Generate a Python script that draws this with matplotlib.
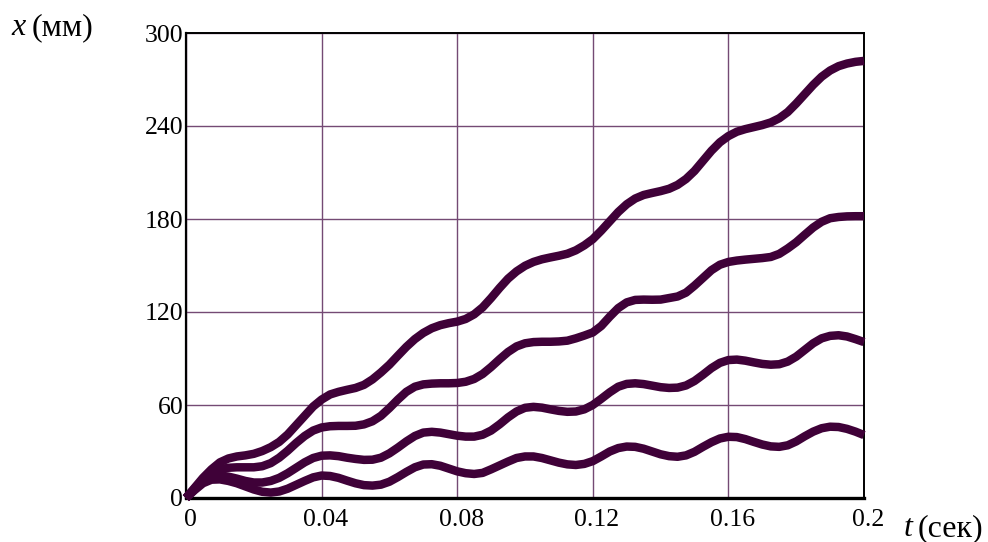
import numpy as np
import matplotlib
matplotlib.use("Agg")
import matplotlib.pyplot as plt
import matplotlib.transforms as mtransforms

# time samples (s)
t = [i * 0.0025 for i in range(81)]

x_top = [0, 6.5, 13, 18.5, 23, 25.5, 26.8, 27.5, 28.5, 30.3,
         32.8, 36.2, 41, 47, 53, 59, 63.5, 66.8, 68.5, 69.8,
         71, 73, 76.5, 81, 86, 91.8, 97.5, 102.5, 106.5, 109.5,
         111.5, 112.8, 113.8, 115.5, 118.5, 123, 129, 135.5, 141.5, 146.2,
         149.8, 152.3, 154, 155.2, 156.3, 157.6, 159.8, 163, 167, 172.5,
         178.5, 184.5, 189.5, 193.2, 195.5, 196.8, 198, 199.5, 202, 205.8,
         211, 217.5, 224, 229.5, 233.5, 236.3, 238, 239.3, 240.6, 242.3,
         245, 249, 254.5, 260.5, 266.5, 271.8, 275.8, 278.6, 280.3, 281.4,
         282]

x_second = [0, 6, 11.5, 16, 18.5, 19.5, 19.8, 19.8, 19.8, 20.5,
            22.5, 26, 30.5, 35.5, 40, 43.5, 45.5, 46.3, 46.5, 46.5,
            46.6, 47.5, 49.5, 53, 58, 63.5, 68.5, 71.8, 73.3, 73.8,
            74, 74, 74.2, 75, 76.8, 80, 84.5, 89.5, 94.2, 97.8,
            99.8, 100.6, 100.8, 100.8, 101, 101.5, 103, 104.8, 106.8, 111,
            117, 122.5, 126.2, 127.8, 128, 127.9, 128, 129, 130, 132.5,
            137, 142, 147, 150.5, 152.3, 153.2, 153.8, 154.3, 154.8, 155.5,
            157.5, 161, 165, 169.8, 174.5, 178.2, 180.5, 181.3, 181.7, 181.8,
            181.8]

x_third = [0, 5.5, 10.5, 13.8, 14.5, 13.8, 12.5, 11, 10, 10,
           11, 13, 16, 19.5, 23, 25.8, 27.3, 27.5, 27, 26,
           25.2, 24.6, 24.7, 26, 28.8, 32.5, 36.5, 40, 42.2, 42.7,
           42.2, 41.2, 40.2, 39.6, 39.6, 40.8, 43.5, 47.5, 52, 55.8,
           58.2, 58.8, 58.3, 57.2, 56.2, 55.6, 55.8, 57.2, 60, 64,
           68.2, 71.8, 73.6, 74, 73.5, 72.5, 71.5, 71, 71.2, 72.6,
           75.5, 79.5, 83.8, 87.2, 89, 89.3, 88.6, 87.5, 86.5, 86,
           86.3, 88, 91.2, 95.5, 99.8, 103, 104.6, 105, 104.2, 102.5,
           100.6]

x_bottom = [0, 5, 9.5, 11.8, 12, 11, 9.5, 7.5, 5.5, 4,
            3.5, 4.2, 6, 8.5, 11, 13.3, 14.5, 14.2, 13, 11.2,
            9.5, 8.3, 8, 8.6, 10.5, 13.5, 16.8, 19.8, 21.6, 21.8,
            20.8, 19, 17.2, 16, 15.5, 16.2, 18.5, 21, 23.5, 25.8,
            26.8, 26.8, 25.8, 24.3, 22.8, 21.7, 21.3, 22, 23.8, 26.8,
            30, 32.2, 33.2, 33, 31.8, 30, 28.2, 27, 26.6, 27.5,
            29.8, 33, 36, 38.4, 39.5, 39.3, 38, 36.2, 34.5, 33.3,
            33, 34, 36.5, 39.8, 42.8, 45, 46, 45.8, 44.6, 42.8,
            40.6]

x_ticks = [0, 0.04, 0.08, 0.12, 0.16, 0.2]
x_ticklabels = ["0", "0.04", "0.08", "0.12", "0.16", "0.2"]
y_ticks = [0, 60, 120, 180, 240, 300]
y_ticklabels = ["0", "60", "120", "180", "240", "300"]

W, H = 988, 542
fig = plt.figure(figsize=(W / 100, H / 100), dpi=100)
ax = fig.add_axes([186 / W, 44 / H, 678 / W, 465 / H])

line_color = "#3f0138"
grid_color = "#744a74"
serif = ["Liberation Serif", "DejaVu Serif"]

for series in (x_top, x_second, x_third, x_bottom):
    ax.plot(t, series, color=line_color, lw=6.1, solid_capstyle="butt",
            solid_joinstyle="round", zorder=3, clip_on=False)

ax.set_xlim(0, 0.2)
ax.set_ylim(0, 300)
ax.set_xticks(x_ticks)
ax.set_xticklabels(x_ticklabels)
ax.set_yticks(y_ticks)
ax.set_yticklabels(y_ticklabels)
ax.tick_params(length=0, labelsize=18.5)
ax.tick_params(axis="y", pad=2)
ax.tick_params(axis="x", pad=8)
shift = mtransforms.ScaledTranslation(4 / 100, 0, fig.dpi_scale_trans)
for lab in ax.get_xticklabels():
    lab.set_family(serif)
    lab.set_transform(lab.get_transform() + shift)
for lab in ax.get_yticklabels():
    lab.set_family(serif)

ax.grid(True, color=grid_color, lw=1.0, zorder=1)
ax.set_axisbelow(True)

for side in ("top", "right"):
    ax.spines[side].set_color("black")
    ax.spines[side].set_linewidth(1.4)
ax.spines["left"].set_color("black")
ax.spines["left"].set_linewidth(1.6)
ax.spines["bottom"].set_color("black")
ax.spines["bottom"].set_linewidth(2.4)

# axis titles
fig.text(11 / W, 1 - 35 / H, "x", fontsize=23, style="italic",
         family=serif, va="baseline", ha="left")
fig.text(32 / W, 1 - 35 / H, "(мм)", fontsize=23,
         family=serif, va="baseline", ha="left")
fig.text(904 / W, 1 - 536 / H, "t", fontsize=23, style="italic",
         family=serif, va="baseline", ha="left")
fig.text(918 / W, 1 - 536 / H, "(сек)", fontsize=23,
         family=serif, va="baseline", ha="left")

fig.savefig("out.png", dpi=100)
